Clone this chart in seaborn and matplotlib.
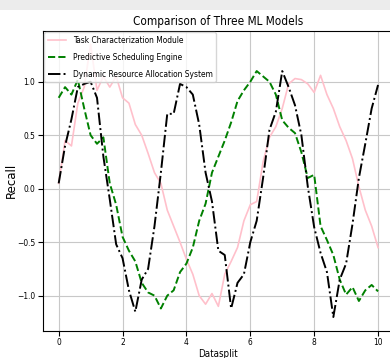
import numpy as np
import pandas as pd
import matplotlib
matplotlib.use("Agg")
import matplotlib.pyplot as plt
import seaborn as sns
from matplotlib.patches import Rectangle

# values (x step 0.2 from 0 to 10)
datasplit = np.round(np.arange(0, 10.01, 0.2), 1)

task_module = [0.05, 0.45, 0.40, 0.80, 0.95, 1.35, 0.92, 1.05, 0.95, 1.05,
               0.85, 0.80, 0.60, 0.50, 0.33, 0.15, 0.05, -0.20, -0.35, -0.50,
               -0.66, -0.80, -1.00, -1.08, -0.98, -1.10, -0.80, -0.68, -0.55, -0.30,
               -0.15, -0.12, 0.25, 0.48, 0.58, 0.75, 0.98, 1.03, 1.02, 0.98,
               0.90, 1.06, 0.88, 0.75, 0.58, 0.45, 0.28, 0.02, -0.20, -0.35,
               -0.55]

sched_engine = [0.85, 0.95, 0.88, 1.02, 0.75, 0.50, 0.42, 0.48, 0.05, -0.15,
                -0.45, -0.58, -0.68, -0.88, -0.97, -1.00, -1.12, -1.00, -0.95, -0.78,
                -0.70, -0.55, -0.30, -0.14, 0.15, 0.30, 0.45, 0.62, 0.82, 0.92,
                1.00, 1.10, 1.05, 1.00, 0.88, 0.64, 0.57, 0.52, 0.34, 0.10,
                0.13, -0.35, -0.48, -0.62, -0.85, -0.99, -0.92, -1.05, -0.95, -0.90,
                -0.96]

resource_alloc = [0.05, 0.40, 0.65, 0.95, 0.98, 1.00, 0.85, 0.30, -0.10, -0.52,
                  -0.65, -0.95, -1.15, -0.85, -0.75, -0.35, 0.15, 0.70, 0.70, 0.98,
                  0.95, 0.88, 0.60, 0.15, -0.12, -0.58, -0.62, -1.12, -0.88, -0.80,
                  -0.50, -0.30, 0.10, 0.55, 0.72, 1.10, 0.95, 0.78, 0.50, 0.02,
                  -0.36, -0.60, -0.78, -1.20, -0.85, -0.70, -0.33, 0.10, 0.42, 0.75,
                  0.97]

labels = ["Task Characterization Module", "Predictive Scheduling Engine",
          "Dynamic Resource Allocation System"]

df = pd.DataFrame({"Datasplit": datasplit,
                   labels[0]: task_module,
                   labels[1]: sched_engine,
                   labels[2]: resource_alloc})

plt.rcParams['font.family'] = ['DejaVu Sans']
plt.rcParams['font.stretch'] = 'condensed'

fig = plt.figure(figsize=(3.9, 3.58), dpi=100)
ax = fig.add_axes([0.1095, 0.0763, 0.9008, 0.838])

# light grey band at the very top of the screenshot
fig.patches.append(Rectangle((0, 1 - 10 / 358), 1, 10 / 358, transform=fig.transFigure,
                             facecolor='#ececec', edgecolor='none', zorder=0))

sns.lineplot(ax=ax, data=df, x="Datasplit", y=labels[0], color='pink',
             linestyle='-', linewidth=1.2, label=labels[0])
sns.lineplot(ax=ax, data=df, x="Datasplit", y=labels[1], color='green',
             linestyle='--', linewidth=1.4, label=labels[1])
sns.lineplot(ax=ax, data=df, x="Datasplit", y=labels[2], color='black',
             linestyle='-.', linewidth=1.4, label=labels[2])

ax.set_title("Comparison of Three ML Models", fontsize=8.5, pad=4)
ax.set_xlabel("Datasplit", fontsize=7, labelpad=1)
ax.set_ylabel("Recall", fontsize=8.5, fontstretch='normal')
ax.yaxis.set_label_coords(-0.07, 0.5)
ax.set_xticks([0, 2, 4, 6, 8, 10])
ax.set_yticks([-1.0, -0.5, 0.0, 0.5, 1.0])
ax.tick_params(axis='both', labelsize=6, pad=2)
ax.grid(True, color='#c8c8c8', linewidth=0.8)
ax.legend(loc='upper left', fontsize=6, borderaxespad=0.2, handlelength=2.2,
          labelspacing=0.95)

plt.savefig('out.png', dpi=100)
